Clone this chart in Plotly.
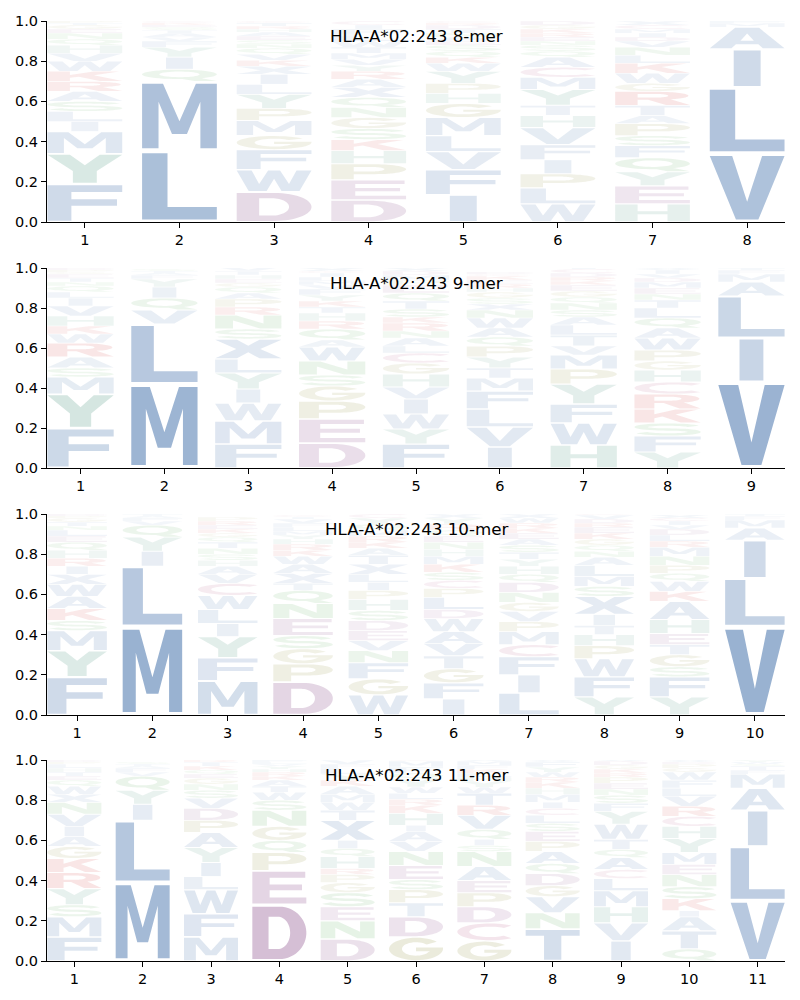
import numpy as np
import plotly.graph_objects as go

ALLELE = "HLA-A*02:243"
LENGTHS = [8, 9, 10, 11]
Y_TICKS = [0.0, 0.2, 0.4, 0.6, 0.8, 1.0]

# ---- data: letters stacked bottom -> top with their frequencies ----
letters_8mer = ["FYMILSARKWVHQNEGTP", "LMQIYFVATSEKC", "DWFGMPYLIXKVQNSEAHRTC",
                "DEPHKSGNQXARYVMTWLFIC", "IFVLMGHPYWKQSEANTDRC", "WLPIFVHTYMCAQSNERKGD",
                "HEYQFSPATRGWKLNVDIMCX", "VLIAMF"]
probs_8mer = [
    [.19, .15, .11, .05, .05, .05, .05, .05, .05, .05, .04, .04, .03, .03, .02, .02, .01, .01],
    [.355, .345, .06, .06, .05, .03, .02, .02, .015, .015, .01, .01, .01],
    [.15, .11, .10, .07, .075, .06, .07, .05, .05, .04, .03, .03, .03, .02, .02, .02, .02, .015, .015, .015, .01],
    [.11, .10, .08, .065, .055, .055, .055, .05, .05, .05, .04, .04, .03, .03, .03, .03, .03, .03, .03, .02, .02],
    [.135, .125, .09, .08, .09, .07, .05, .05, .06, .04, .03, .03, .03, .02, .02, .02, .02, .02, .01, .01],
    [.09, .08, .07, .07, .075, .085, .06, .05, .08, .06, .05, .05, .03, .03, .02, .02, .02, .02, .02, .02],
    [.09, .09, .07, .07, .06, .05, .06, .04, .05, .07, .04, .05, .05, .04, .04, .03, .02, .02, .02, .02, .02],
    [.34, .33, .19, .11, .02, .01],
]

letters_9mer = ["FYMSARWKHVILQNTEGPD", "MLVQIYFATS", "FMWIYLXSNRPAQGEHTV",
                "DEPGSNWAQRHTKYFVMLICX", "FYWIVHGCLANRKSTQEPMDX", "IVLFMTYPQAWNXSGHREKCD",
                "HWFYPMVTLASNQGEKRDCI", "YFSKRCHGPWAQLTNEMDVIX", "VILAMFT"]
probs_9mer = [
    [.20, .17, .085, .045, .055, .07, .045, .04, .05, .05, .04, .03, .03, .02, .02, .02, .01, .01, .01],
    [.42, .30, .07, .06, .055, .04, .02, .01, .01, .01],
    [.12, .115, .09, .07, .08, .07, .10, .05, .07, .04, .04, .03, .03, .02, .02, .02, .02, .02],
    [.125, .12, .09, .075, .055, .07, .07, .035, .055, .04, .04, .03, .03, .03, .03, .02, .02, .02, .02, .01, .015],
    [.12, .075, .075, .075, .06, .065, .055, .05, .035, .04, .035, .04, .03, .04, .04, .04, .04, .025, .025, .02, .015],
    [.105, .10, .09, .09, .065, .05, .055, .055, .045, .045, .05, .04, .03, .03, .03, .02, .02, .02, .02, .01, .01],
    [.115, .11, .095, .10, .075, .07, .045, .055, .05, .04, .035, .035, .03, .03, .03, .02, .02, .02, .02, .01],
    [.08, .08, .065, .07, .075, .06, .06, .045, .055, .06, .05, .05, .05, .04, .03, .03, .03, .02, .02, .02, .01],
    [.43, .22, .21, .07, .04, .02, .01],
]

letters_10mer = ["FYMSKAWXIRHQELNTGPD", "MLIYQVFAT", "MFYILWCVAHSNTQGKERP",
                 "DPGSENQTXAWKRHYMLFVIC", "WGFNVEDSHPILXTAKRMQYC", "IFGTVAWDLPCSKMHNEQRYX",
                 "LIFCMPVGNDQHYTSAEKRWX", "YFWPHTIXSMLANQGKERDVC", "YFSGTEHAKWQPNMRLDVICX",
                 "VLIAMFT"]
probs_10mer = [
    [.19, .13, .10, .05, .06, .06, .06, .05, .04, .04, .04, .04, .03, .03, .02, .02, .02, .01, .01],
    [.44, .30, .075, .07, .06, .02, .015, .01, .01],
    [.17, .115, .105, .065, .07, .07, .06, .045, .04, .03, .03, .03, .03, .025, .02, .02, .02, .02, .02],
    [.165, .09, .075, .065, .085, .075, .065, .035, .05, .045, .04, .03, .03, .025, .02, .02, .02, .02, .02, .01, .01],
    [.10, .08, .08, .06, .05, .05, .05, .05, .055, .045, .04, .04, .05, .045, .035, .03, .03, .03, .03, .03, .02],
    [.08, .08, .07, .065, .06, .06, .065, .045, .06, .045, .04, .04, .04, .04, .035, .035, .03, .03, .03, .03, .02],
    [.11, .09, .09, .06, .065, .05, .05, .045, .05, .05, .04, .04, .035, .035, .035, .03, .03, .025, .025, .025, .02],
    [.09, .10, .09, .065, .055, .045, .055, .09, .05, .05, .055, .04, .03, .03, .03, .03, .03, .02, .02, .02, .01],
    [.09, .10, .05, .06, .05, .055, .07, .09, .05, .05, .04, .04, .045, .045, .03, .03, .03, .02, .02, .015, .015],
    [.44, .24, .19, .06, .04, .02, .01],
]

letters_11mer = ["FMSYRKGAIVNXWQETHLPD", "MLIYQVFATS", "MFWLIYAPDVSNGEQKTRH",
                 "DEPQGNSWTAKRHYVLFM", "DNESGPRHQIXTWMAKYLFVC", "GDTPSENVAIHKRLWYQFMC",
                 "GCDPEANSIQVRTWYHLKFMX", "TNVGDQAPESLCIMHKRWYFX", "IVHMLCAQTWYFSNEPRKGDX",
                 "QTAIKSNEMYHCRVLFWGPDX", "VLIAMFTSWY"]
probs_11mer = [
    [.12, .10, .06, .08, .08, .07, .06, .05, .05, .06, .06, .04, .04, .03, .02, .02, .02, .02, .01, .01],
    [.39, .31, .08, .07, .07, .02, .02, .01, .01, .01],
    [.12, .115, .12, .065, .07, .075, .075, .06, .06, .05, .04, .03, .03, .02, .02, .02, .02, .01, .01],
    [.28, .17, .09, .06, .07, .08, .05, .04, .03, .03, .02, .02, .015, .015, .01, .01, .01, .01],
    [.11, .09, .07, .07, .05, .04, .03, .06, .04, .04, .10, .05, .04, .04, .04, .03, .03, .03, .02, .02, .01],
    [.12, .10, .07, .065, .05, .07, .07, .05, .05, .03, .06, .04, .03, .03, .03, .04, .03, .03, .03, .01],
    [.10, .09, .08, .07, .06, .07, .075, .03, .03, .05, .07, .05, .06, .03, .03, .02, .02, .02, .02, .02, .01],
    [.16, .08, .08, .055, .06, .05, .06, .05, .05, .04, .04, .035, .03, .04, .03, .03, .025, .025, .025, .025, .01],
    [.10, .09, .08, .08, .06, .045, .06, .04, .05, .075, .065, .04, .04, .03, .03, .03, .02, .02, .02, .02, .01],
    [.06, .09, .07, .03, .06, .06, .06, .05, .06, .07, .06, .05, .05, .05, .04, .04, .04, .02, .02, .01, .01],
    [.30, .27, .18, .11, .07, .02, .02, .01, .01, .01],
]

LETTERS = [letters_8mer, letters_9mer, letters_10mer, letters_11mer]
PROBS = [probs_8mer, probs_9mer, probs_10mer, probs_11mer]

# ---- colour scheme ----
BLUE, TEAL, PURPLE, OLIVE, GREEN, RED, PINK = ((68, 113, 171), (76, 149, 127), (139, 78, 139),
                                               (141, 141, 57), (81, 168, 81), (208, 53, 53), (176, 74, 122))
COLORS = {}
for aa in "AVLIMFWXT":
    COLORS[aa] = BLUE
for aa in "YH":
    COLORS[aa] = TEAL
for aa in "DE":
    COLORS[aa] = PURPLE
for aa in "PG":
    COLORS[aa] = OLIVE
for aa in "QNS":
    COLORS[aa] = GREEN
for aa in "KR":
    COLORS[aa] = RED
COLORS["C"] = PINK


# ---- glyph outlines (unit box) ----
def arc(cx, cy, rx, ry, a0, a1, n=30):
    a = np.radians(np.linspace(a0, a1, n))
    return [(cx + rx * np.cos(t), cy + ry * np.sin(t)) for t in a]


def stroke(pts, t):
    p = np.array(pts, dtype=float)
    d = np.gradient(p, axis=0)
    d /= np.linalg.norm(d, axis=1)[:, None]
    nrm = np.stack([-d[:, 1], d[:, 0]], axis=1)
    left = p + nrm * t / 2
    right = p - nrm * t / 2
    return [tuple(q) for q in left] + [tuple(q) for q in right[::-1]]


G = {}
G["A"] = [([(0, 0), (0.29, 0), (0.35, 0.2), (0.65, 0.2), (0.71, 0), (1, 0), (0.66, 1), (0.34, 1)], False),
          ([(0.41, 0.37), (0.59, 0.37), (0.5, 0.72)], True)]
G["C"] = [(stroke(arc(0.52, 0.5, 0.42, 0.405, 48, 312, 40), 0.19), False)]
G["D"] = [([(0, 0), (0.5, 0)] + arc(0.5, 0.5, 0.5, 0.5, -90, 90) + [(0, 1)], False),
          ([(0.3, 0.19), (0.47, 0.19)] + arc(0.47, 0.5, 0.23, 0.31, -90, 90) + [(0.3, 0.81)], True)]
G["E"] = [([(0, 0), (1, 0), (1, 0.19), (0.32, 0.19), (0.32, 0.42), (0.92, 0.42), (0.92, 0.6),
            (0.32, 0.6), (0.32, 0.81), (0.98, 0.81), (0.98, 1), (0, 1)], False)]
G["F"] = [([(0, 0), (0.32, 0), (0.32, 0.42), (0.93, 0.42), (0.93, 0.6), (0.32, 0.6), (0.32, 0.81),
            (1, 0.81), (1, 1), (0, 1)], False)]
G["G"] = [(arc(0.5, 0.5, 0.5, 0.5, 40, 360, 40) + [(1, 0.56), (0.5, 0.56), (0.5, 0.4), (0.76, 0.4)]
           + arc(0.5, 0.5, 0.26, 0.3, 330, 40, 34), False)]
G["H"] = [([(0, 0), (0.3, 0), (0.3, 0.42), (0.7, 0.42), (0.7, 0), (1, 0), (1, 1), (0.7, 1), (0.7, 0.6),
            (0.3, 0.6), (0.3, 1), (0, 1)], False)]
G["I"] = [([(0.32, 0), (0.68, 0), (0.68, 1), (0.32, 1)], False)]
G["K"] = [([(0, 0), (0.3, 0), (0.3, 0.33), (0.42, 0.46), (0.7, 0), (1, 0), (0.62, 0.62), (0.96, 1),
            (0.62, 1), (0.3, 0.64), (0.3, 1), (0, 1)], False)]
G["L"] = [([(0, 0), (1, 0), (1, 0.19), (0.34, 0.19), (0.34, 1), (0, 1)], False)]
G["M"] = [([(0, 0), (0.22, 0), (0.22, 0.72), (0.4, 0.22), (0.6, 0.22), (0.78, 0.72), (0.78, 0), (1, 0),
            (1, 1), (0.72, 1), (0.5, 0.42), (0.28, 1), (0, 1)], False)]
G["N"] = [([(0, 0), (0.27, 0), (0.27, 0.62), (0.68, 0), (1, 0), (1, 1), (0.73, 1), (0.73, 0.38),
            (0.32, 1), (0, 1)], False)]
G["P"] = [([(0, 0), (0.3, 0), (0.3, 0.34), (0.58, 0.34)] + arc(0.58, 0.67, 0.42, 0.33, -90, 90) + [(0, 1)], False),
          ([(0.3, 0.52), (0.54, 0.52)] + arc(0.54, 0.67, 0.17, 0.15, -90, 90) + [(0.3, 0.82)], True)]
G["Q"] = [(arc(0.5, 0.58, 0.5, 0.42, 0, 360, 48), False),
          (arc(0.5, 0.58, 0.27, 0.25, 0, 360, 40), True),
          ([(0.52, 0.2), (0.7, 0.0), (1.0, 0.0), (0.78, 0.25)], False)]
G["R"] = [([(0, 0), (0.3, 0), (0.3, 0.4), (0.44, 0.4), (0.68, 0), (1, 0), (0.74, 0.44)]
           + arc(0.56, 0.7, 0.42, 0.3, -55, 90) + [(0, 1)], False),
          ([(0.3, 0.56), (0.54, 0.56)] + arc(0.54, 0.7, 0.17, 0.14, -90, 90) + [(0.3, 0.84)], True)]
G["S"] = [(stroke(arc(0.5, 0.705, 0.38, 0.205, 15, 270, 30) + arc(0.5, 0.295, 0.38, 0.205, 90, -165, 31)[1:],
                  0.19), False)]
G["T"] = [([(0, 1), (1, 1), (1, 0.81), (0.66, 0.81), (0.66, 0), (0.34, 0), (0.34, 0.81), (0, 0.81)], False)]
G["V"] = [([(0, 1), (0.3, 1), (0.5, 0.28), (0.7, 1), (1, 1), (0.65, 0), (0.35, 0)], False)]
G["W"] = [([(0, 1), (0.2, 1), (0.3, 0.35), (0.42, 1), (0.58, 1), (0.7, 0.35), (0.8, 1), (1, 1),
            (0.84, 0), (0.6, 0), (0.5, 0.6), (0.4, 0), (0.16, 0)], False)]
G["X"] = [([(0, 1), (0.33, 1), (0.5, 0.68), (0.67, 1), (1, 1), (0.68, 0.5), (1, 0), (0.67, 0),
            (0.5, 0.32), (0.33, 0), (0, 0), (0.32, 0.5)], False)]
G["Y"] = [([(0, 1), (0.3, 1), (0.5, 0.62), (0.7, 1), (1, 1), (0.66, 0.42), (0.66, 0), (0.34, 0),
            (0.34, 0.42)], False)]


def prepare(glyph, normalize=True):
    polys = [(np.array(p, dtype=float), h) for p, h in glyph]
    allp = np.vstack([p for p, _ in polys])
    mn, mx = allp.min(axis=0), allp.max(axis=0)
    out = []
    for p, h in polys:
        if normalize:
            p = (p - mn) / (mx - mn)
        x, y = p[:, 0], p[:, 1]
        area = 0.5 * np.sum(x * np.roll(y, -1) - np.roll(x, -1) * y)
        if (area > 0) == h:
            p = p[::-1]
        out.append(p)
    return out


GLYPHS = {k: prepare(v, normalize=(k != "I")) for k, v in G.items()}

# ---- layout geometry (page has an 8px body margin) ----
PAGE_OFFSET = 8
FIG_W, FIG_H = 792, 992
TOP_PX, BOT_PX, LEFT_PX, RIGHT_PX = 21, 961, 47, 785
PANELS_PX = [(21, 222), (268, 468), (514, 715), (760, 961)]
span = BOT_PX - TOP_PX
domains = [((BOT_PX - b) / span, (BOT_PX - t) / span) for t, b in PANELS_PX]

GLYPH_WIDTH = 0.79
VPAD = 0.035

fig = go.Figure()
shapes = []
annotations = []
font_family = "DejaVu Sans"

for k, L in enumerate(LENGTHS):
    idx = "" if k == 0 else str(k + 1)
    xref, yref = "x" + idx, "y" + idx
    positions = list(range(1, L + 1))
    fig.add_trace(go.Scatter(x=positions, y=[0] * L, mode="markers", marker=dict(opacity=0),
                             hoverinfo="skip", showlegend=False, xaxis=xref, yaxis=yref))
    for pos, letters, probs in zip(positions, LETTERS[k], PROBS[k]):
        base = 0.0
        for aa, p in zip(letters, probs):
            b = base + VPAD * p
            h = p * (1 - 2 * VPAD)
            x0 = pos - GLYPH_WIDTH / 2
            parts = []
            for poly in GLYPHS[aa]:
                xs = x0 + poly[:, 0] * GLYPH_WIDTH
                ys = b + poly[:, 1] * h
                seg = "M" + "L".join(f"{xx:.4f},{yy:.5f}" for xx, yy in zip(xs, ys)) + "Z"
                parts.append(seg)
            r, g, bl = COLORS[aa]
            alpha = min(1.0, 0.04 + 1.15 * p)
            shapes.append(dict(type="path", path="".join(parts), xref=xref, yref=yref,
                               fillcolor=f"rgba({r},{g},{bl},{alpha:.3f})", fillrule="nonzero",
                               line=dict(width=0), layer="above"))
            base += p
    axis_common = dict(showline=True, linecolor="black", linewidth=1, ticks="outside", ticklen=5,
                       tickwidth=1, tickcolor="black", showgrid=False, zeroline=False, automargin=False,
                       tickfont=dict(family=font_family, size=14.5, color="black"))
    fig.layout["xaxis" + idx] = dict(domain=[0, 1], range=[0.6, L + 0.4], tickvals=positions,
                                     ticktext=[str(v) for v in positions], anchor=yref, **axis_common)
    fig.layout["yaxis" + idx] = dict(domain=list(domains[k]), range=[0, 1], tickvals=Y_TICKS,
                                     tickformat=".1f", anchor=xref, **axis_common)
    annotations.append(dict(text=f"{ALLELE} {L}-mer", x=0.5, y=0.925, xref=xref + " domain",
                            yref=yref + " domain", showarrow=False, xanchor="center", yanchor="middle",
                            font=dict(family=font_family, size=16.7, color="black")))

fig.update_layout(width=FIG_W, height=FIG_H,
                  margin=dict(l=LEFT_PX - PAGE_OFFSET, r=FIG_W + PAGE_OFFSET - RIGHT_PX,
                              t=TOP_PX - PAGE_OFFSET, b=FIG_H + PAGE_OFFSET - BOT_PX, autoexpand=False),
                  plot_bgcolor="white", paper_bgcolor="white", showlegend=False,
                  shapes=shapes, annotations=annotations)
fig.write_html("out.html")
